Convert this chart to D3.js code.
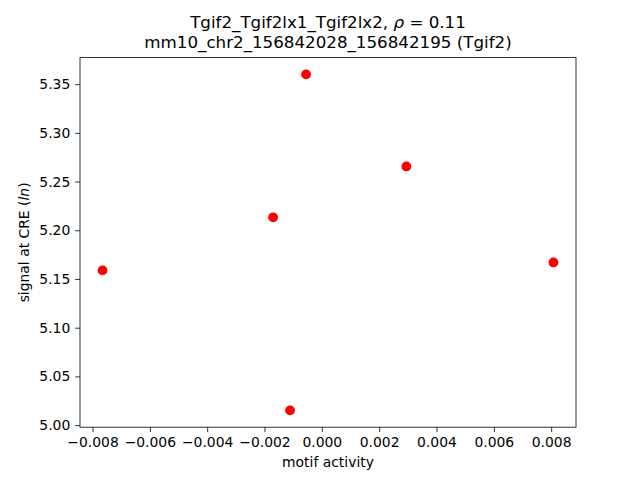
<!DOCTYPE html>
<meta charset="utf-8">
<script src="https://d3js.org/d3.v7.min.js"></script>
<style>
  body { margin: 0; background: #fff; }
  text { font-family: "DejaVu Sans", sans-serif; fill: #000; }
</style>
<div id="chart"></div>
<script>
  // values
  var motifActivity = [-0.00765, -0.00055, 0.00295, -0.0017, 0.00808, -0.00111];
  var signalCRE = [5.1588, 5.360, 5.2655, 5.2133, 5.167, 5.0151];
  var xTicks = [-0.008, -0.006, -0.004, -0.002, 0.000, 0.002, 0.004, 0.006, 0.008];
  var yTicks = [5.00, 5.05, 5.10, 5.15, 5.20, 5.25, 5.30, 5.35];
  var titleLine2 = "mm10_chr2_156842028_156842195 (Tgif2)";

  var margin = { top: 57.6, right: 64, bottom: 52.8, left: 80 },
    width = 640 - margin.left - margin.right,
    height = 480 - margin.top - margin.bottom;

  var svg = d3.select("#chart")
    .append("svg")
    .attr("width", 640)
    .attr("height", 480)
    .append("g")
    .attr("transform", "translate(" + margin.left + "," + margin.top + ")");

  // matplotlib style 5% padding around the data
  function padded(arr) {
    var lo = d3.min(arr), hi = d3.max(arr), p = (hi - lo) * 0.05;
    return [lo - p, hi + p];
  }

  var x = d3.scaleLinear().domain(padded(motifActivity)).range([0, width]);
  var y = d3.scaleLinear().domain(padded(signalCRE)).range([height, 0]);

  var tickLen = 4.86;

  var xAxis = svg.append("g")
    .attr("transform", "translate(0," + height + ")")
    .call(d3.axisBottom(x).tickValues(xTicks).tickSize(tickLen).tickPadding(4.9)
      .tickFormat(function (d) { return d3.format(".3f")(d).replace("-", "\u2212"); }));

  var yAxis = svg.append("g")
    .call(d3.axisLeft(y).tickValues(yTicks).tickSize(tickLen).tickPadding(4.9)
      .tickFormat(d3.format(".2f")));

  [xAxis, yAxis].forEach(function (a) {
    a.select(".domain").remove();
    a.selectAll("line").attr("stroke", "#000").attr("stroke-width", 0.8);
    a.selectAll("text").style("font-size", "13.9px").attr("fill", "#000");
  });

  // frame
  svg.append("rect")
    .attr("width", width)
    .attr("height", height)
    .attr("fill", "none")
    .attr("stroke", "#000")
    .attr("stroke-width", 0.8);

  // points
  svg.selectAll("circle")
    .data(motifActivity)
    .enter()
    .append("circle")
    .attr("cx", function (d) { return x(d); })
    .attr("cy", function (d, i) { return y(signalCRE[i]); })
    .attr("r", 4.9)
    .attr("fill", "#ff0000");

  // title
  var t1 = svg.append("text")
    .attr("x", width / 2)
    .attr("y", -29.5)
    .attr("text-anchor", "middle")
    .style("font-size", "16.7px");
  t1.append("tspan").text("Tgif2_Tgif2lx1_Tgif2lx2, ");
  t1.append("tspan").style("font-style", "italic").text("\u03c1");
  t1.append("tspan").text(" = 0.11");

  svg.append("text")
    .attr("x", width / 2)
    .attr("y", -9.5)
    .attr("text-anchor", "middle")
    .style("font-size", "16.7px")
    .text(titleLine2);

  // axis labels
  svg.append("text")
    .attr("x", width / 2)
    .attr("y", height + 40)
    .attr("text-anchor", "middle")
    .style("font-size", "13.9px")
    .text("motif activity");

  var yl = svg.append("text")
    .attr("transform", "translate(" + (-51) + "," + (height / 2) + ") rotate(-90)")
    .attr("text-anchor", "middle")
    .style("font-size", "13.9px");
  yl.append("tspan").text("signal at CRE (");
  yl.append("tspan").style("font-style", "italic").text("ln");
  yl.append("tspan").text(")");
</script>
